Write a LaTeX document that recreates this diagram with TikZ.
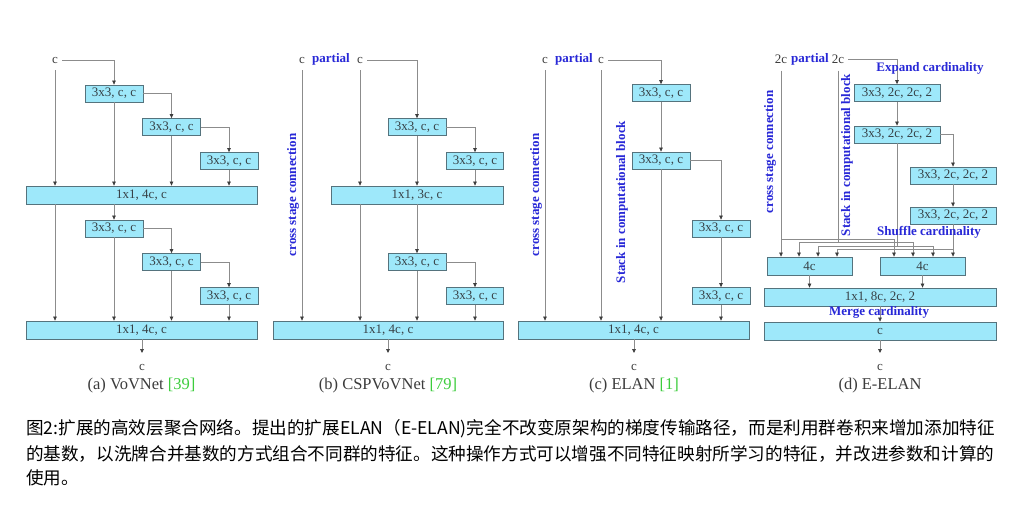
\documentclass[tikz,border=0pt]{standalone}
\usepackage{fontspec}
\setmainfont{Liberation Serif}
\newfontfamily\cjk{Noto Sans CJK SC}
\usetikzlibrary{arrows.meta}
\definecolor{boxfill}{RGB}{158,232,250}
\definecolor{boxedge}{RGB}{85,115,125}
\definecolor{boxtext}{RGB}{55,65,70}
\definecolor{linegray}{RGB}{140,140,140}
\definecolor{arrowgray}{RGB}{60,60,60}
\definecolor{lblblue}{RGB}{40,40,215}
\definecolor{refgreen}{RGB}{60,205,60}
\definecolor{txtgray}{RGB}{60,60,60}
\tikzset{
  blk/.style={draw=boxedge, fill=boxfill, line width=0.8pt, minimum height=17pt, inner sep=0pt, text=boxtext, font=\fontsize{13}{15}\selectfont},
  wide/.style={blk, minimum height=18pt},
  conn/.style={draw=linegray, line width=0.7pt, -{Triangle[length=4pt,width=3.6pt,color=arrowgray]}},
  plain/.style={draw=linegray, line width=0.7pt},
  fromtop/.style={shorten <=6pt},
  fromside/.style={shorten <=3pt},
  tlbl/.style={inner sep=1pt, text=txtgray, font=\fontsize{13}{15}\selectfont},
  blbl/.style={inner sep=1pt, text=lblblue, font=\fontsize{13}{15}\selectfont\bfseries},
  vlbl/.style={blbl, rotate=90},
  olbl/.style={inner sep=0pt, anchor=north, text=txtgray, font=\fontsize{13}{15}\selectfont},
  subcap/.style={inner sep=0pt, text=txtgray, font=\fontsize{16.5}{19}\selectfont},
  cjkline/.style={inner sep=0pt, anchor=west, text=black, font=\cjk\fontsize{17.6}{20}\selectfont},
}
\begin{document}
\begin{tikzpicture}[x=1pt,y=-1pt]
\fill[white] (0,0) rectangle (1020,509);
\useasboundingbox (0,0) rectangle (1020,509);

% ---------------- (a) VoVNet ----------------
\node[tlbl] (ca) at (55,60) {c};
\node[blk, minimum width=58pt] (a1) at (114,93.5) {3x3, c, c};
\node[blk, minimum width=58pt] (a2) at (171.5,127) {3x3, c, c};
\node[blk, minimum width=58pt] (a3) at (229,161) {3x3, c, c};
\node[wide, minimum width=231pt] (aB1) at (141.5,195) {1x1, 4c, c};
\node[blk, minimum width=58pt] (a4) at (114,228.5) {3x3, c, c};
\node[blk, minimum width=58pt] (a5) at (171.5,262) {3x3, c, c};
\node[blk, minimum width=58pt] (a6) at (229,296) {3x3, c, c};
\node[wide, minimum width=231pt] (aB2) at (141.5,330) {1x1, 4c, c};
\node[olbl] (oa) at (142,364) {c};
\node[subcap] (capa) at (141.5,386) {(a) VoVNet \textcolor{refgreen}{[39]}};

\draw[conn, fromside] (ca.east) -| (a1.north);
\draw[conn, fromtop] (ca.south) -- (ca.south |- aB1.north);
\draw[conn] (a1.south) -- (a1.south |- aB1.north);
\draw[conn] (a1.east) -| (a2.north);
\draw[conn] (a2.south) -- (a2.south |- aB1.north);
\draw[conn] (a2.east) -| (a3.north);
\draw[conn] (a3.south) -- (a3.south |- aB1.north);
\draw[conn] (ca.south |- aB1.south) -- (ca.south |- aB2.north);
\draw[conn] (a4.north |- aB1.south) -- (a4.north);
\draw[conn] (a4.south) -- (a4.south |- aB2.north);
\draw[conn] (a4.east) -| (a5.north);
\draw[conn] (a5.south) -- (a5.south |- aB2.north);
\draw[conn] (a5.east) -| (a6.north);
\draw[conn] (a6.south) -- (a6.south |- aB2.north);
\draw[conn, shorten >=11pt] (aB2.south -| oa.north) -- (oa.north);

% ---------------- (b) CSPVoVNet ----------------
\node[tlbl] (cb1) at (302,60) {c};
\node[blbl] (pb) at (331,59) {partial};
\node[tlbl] (cb2) at (360,60) {c};
\node[blk, minimum width=58pt] (b1) at (417,127) {3x3, c, c};
\node[blk, minimum width=57pt] (b2) at (475,161) {3x3, c, c};
\node[wide, minimum width=172pt] (bB1) at (417,195) {1x1, 3c, c};
\node[blk, minimum width=58pt] (b3) at (417,262) {3x3, c, c};
\node[blk, minimum width=57pt] (b4) at (475,296) {3x3, c, c};
\node[wide, minimum width=230pt] (bB2) at (388,330) {1x1, 4c, c};
\node[vlbl] (csb) at (293,195) {cross stage connection};
\node[olbl] (ob) at (388,364) {c};
\node[subcap] (capb) at (388,386) {(b) CSPVoVNet \textcolor{refgreen}{[79]}};

\draw[conn, fromside] (cb2.east) -| (b1.north);
\draw[conn, fromtop] (cb2.south) -- (cb2.south |- bB1.north);
\draw[conn] (b1.south) -- (b1.south |- bB1.north);
\draw[conn] (b1.east) -| (b2.north);
\draw[conn] (b2.south) -- (b2.south |- bB1.north);
\draw[conn, fromtop] (cb1.south) -- (cb1.south |- bB2.north);
\draw[conn] (cb2.south |- bB1.south) -- (cb2.south |- bB2.north);
\draw[conn] (b3.north |- bB1.south) -- (b3.north);
\draw[conn] (b3.south) -- (b3.south |- bB2.north);
\draw[conn] (b3.east) -| (b4.north);
\draw[conn] (b4.south) -- (b4.south |- bB2.north);
\draw[conn, shorten >=11pt] (bB2.south -| ob.north) -- (ob.north);

% ---------------- (c) ELAN ----------------
\node[tlbl] (cc1) at (545,60) {c};
\node[blbl] (pc) at (574,59) {partial};
\node[tlbl] (cc2) at (601,60) {c};
\node[blk, minimum width=58pt] (c1) at (661,93) {3x3, c, c};
\node[blk, minimum width=58pt] (c2) at (661,160.5) {3x3, c, c};
\node[blk, minimum width=58pt] (c3) at (721,228.5) {3x3, c, c};
\node[blk, minimum width=58pt] (c4) at (721,296) {3x3, c, c};
\node[wide, minimum width=231pt] (cB) at (633.5,330) {1x1, 4c, c};
\node[vlbl] (csc) at (536,195) {cross stage connection};
\node[vlbl] (stc) at (622,202) {Stack in computational block};
\node[olbl] (oc) at (634,364) {c};
\node[subcap] (capc) at (634,386) {(c) ELAN \textcolor{refgreen}{[1]}};

\draw[conn, fromside] (cc2.east) -| (c1.north);
\draw[conn] (c1.south) -- (c2.north);
\draw[conn] (c2.south) -- (c2.south |- cB.north);
\draw[conn] (c2.east) -| (c3.north);
\draw[conn] (c3.south) -- (c4.north);
\draw[conn] (c4.south) -- (c4.south |- cB.north);
\draw[conn, fromtop] (cc1.south) -- (cc1.south |- cB.north);
\draw[conn, fromtop] (cc2.south) -- (cc2.south |- cB.north);
\draw[conn, shorten >=11pt] (cB.south -| oc.north) -- (oc.north);

% ---------------- (d) E-ELAN ----------------
\node[tlbl] (cd1) at (781,59) {2c};
\node[blbl] (pd) at (810,59) {partial};
\node[tlbl] (cd2) at (838,59) {2c};
\node[blk, minimum width=86pt] (d1) at (897,93) {3x3, 2c, 2c, 2};
\node[blk, minimum width=86pt] (d2) at (897,134.5) {3x3, 2c, 2c, 2};
\node[blk, minimum width=86pt] (d3) at (953,175.5) {3x3, 2c, 2c, 2};
\node[blk, minimum width=86pt] (d4) at (953,215.5) {3x3, 2c, 2c, 2};
\node[wide, minimum width=85pt] (dL) at (809.5,266) {4c};
\node[wide, minimum width=85pt] (dR) at (922.5,266) {4c};
\node[wide, minimum width=232pt] (dB) at (880,297) {1x1, 8c, 2c, 2};
\node[wide, minimum width=232pt] (dC) at (880,331) {c};
\node[olbl] (od) at (880,364) {c};
\node[subcap] (capd) at (880,386) {(d) E-ELAN};

\coordinate (s1L) at (781,239);   \coordinate (s1R) at (894,239);
\coordinate (s2L) at (799,242.5); \coordinate (s2R) at (913,242.5);
\coordinate (s3L) at (818,246);   \coordinate (s3R) at (933,246);
\coordinate (s4L) at (837,249.5); \coordinate (s4R) at (953,249.5);

\draw[conn, fromside] (cd2.east) -| (d1.north);
\draw[conn] (d1.south) -- (d2.north);
\draw[conn] (d2.east) -| (d3.north);
\draw[conn] (d3.south) -- (d4.north);
% shuffle
\draw[plain, fromtop] (cd1.south) -- (s1L);
\draw[conn] (s1L) -- (s1L |- dL.north);
\draw[conn] (s1L) -| (s1R |- dR.north);
\draw[plain, fromtop] (cd2.south) -- (cd2.south |- s2L);
\draw[conn] (s2L) -- (s2L |- dL.north);
\draw[conn] (s2L) -| (s2R |- dR.north);
\draw[plain] (d2.south) -- (d2.south |- s3L);
\draw[conn] (s3L) -- (s3L |- dL.north);
\draw[conn] (s3L) -| (s3R |- dR.north);
\draw[plain] (d4.south) -- (s4R);
\draw[conn] (s4L) -- (s4L |- dL.north);
\draw[conn] (s4L) -| (s4R |- dR.north);
\draw[conn] (dL.south) -- (dL.south |- dB.north);
\draw[conn] (dR.south) -- (dR.south |- dB.north);
\draw[conn] (dB.south) -- (dC.north);
\draw[conn, shorten >=11pt] (dC.south -| od.north) -- (od.north);

\node[blbl] (exd) at (930,68) {Expand cardinality};
\node[blbl] (shd) at (929,232) {Shuffle cardinality};
\node[blbl] (mgd) at (879,312) {Merge cardinality};
\node[vlbl] (csd) at (770,152) {cross stage connection};
\node[vlbl] (std) at (847,155) {Stack in computational block};

% ---------------- caption ----------------
\node[cjkline] (l1) at (26,429) {图2:扩展的高效层聚合网络。提出的扩展ELAN（E-ELAN)完全不改变原架构的梯度传输路径，而是利用群卷积来增加添加特征};
\node[cjkline] (l2) at (26,453.5) {的基数，以洗牌合并基数的方式组合不同群的特征。这种操作方式可以增强不同特征映射所学习的特征，并改进参数和计算的};
\node[cjkline] (l3) at (26,478) {使用。};
\end{tikzpicture}
\end{document}
